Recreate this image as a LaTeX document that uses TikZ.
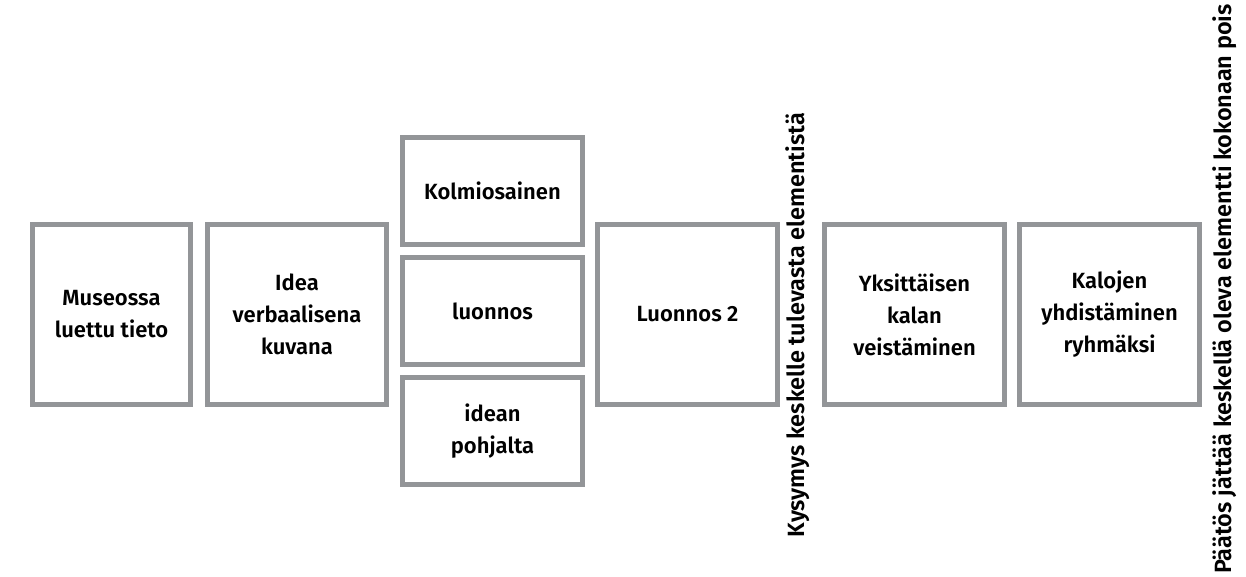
\documentclass[tikz,border=0pt]{standalone}
\usepackage{fontspec}
\setmainfont[BoldFont={Fira Sans SemiBold}]{Fira Sans}
\definecolor{boxgray}{RGB}{147,149,152}
\begin{document}
\begin{tikzpicture}[x=1pt,y=-1pt,
  stepbox/.style={draw=boxgray, line width=5pt, fill=white, align=center,
    font=\fontsize{22}{32}\selectfont\bfseries, inner sep=0pt},
  bigbox/.style={stepbox, minimum width=180pt, minimum height=180pt},
  smallbox/.style={stepbox, minimum width=180pt, minimum height=107pt},
  sidelabel/.style={rotate=90, font=\fontsize{23.5}{32}\selectfont\bfseries, inner sep=0pt}]
\useasboundingbox (0,0) rectangle (1246,576);
\node[bigbox, minimum width=158pt] (b1) at (111.5,314.5) {Museossa\\luettu tieto};
\node[bigbox, minimum width=179pt] (b2) at (297,314.5) {Idea\\verbaalisena\\kuvana};
\node[smallbox] (b3a) at (492.5,191) {Kolmiosainen};
\node[smallbox] (b3b) at (492.5,311) {luonnos};
\node[smallbox] (b3c) at (492.5,431) {idean\\pohjalta};
\node[bigbox] (b4) at (687.5,314.5) {Luonnos 2};
\node[sidelabel] (q) at (798,325) {Kysymys keskelle tulevasta elementistä};
\node[bigbox] (b5) at (914.5,314.5) {Yksittäisen\\kalan\\veistäminen};
\node[bigbox] (b6) at (1109.5,314.5) {Kalojen\\yhdistäminen\\ryhmäksi};
\node[sidelabel] (d) at (1225,289) {Päätös jättää keskellä oleva elementti kokonaan pois};
\end{tikzpicture}
\end{document}
